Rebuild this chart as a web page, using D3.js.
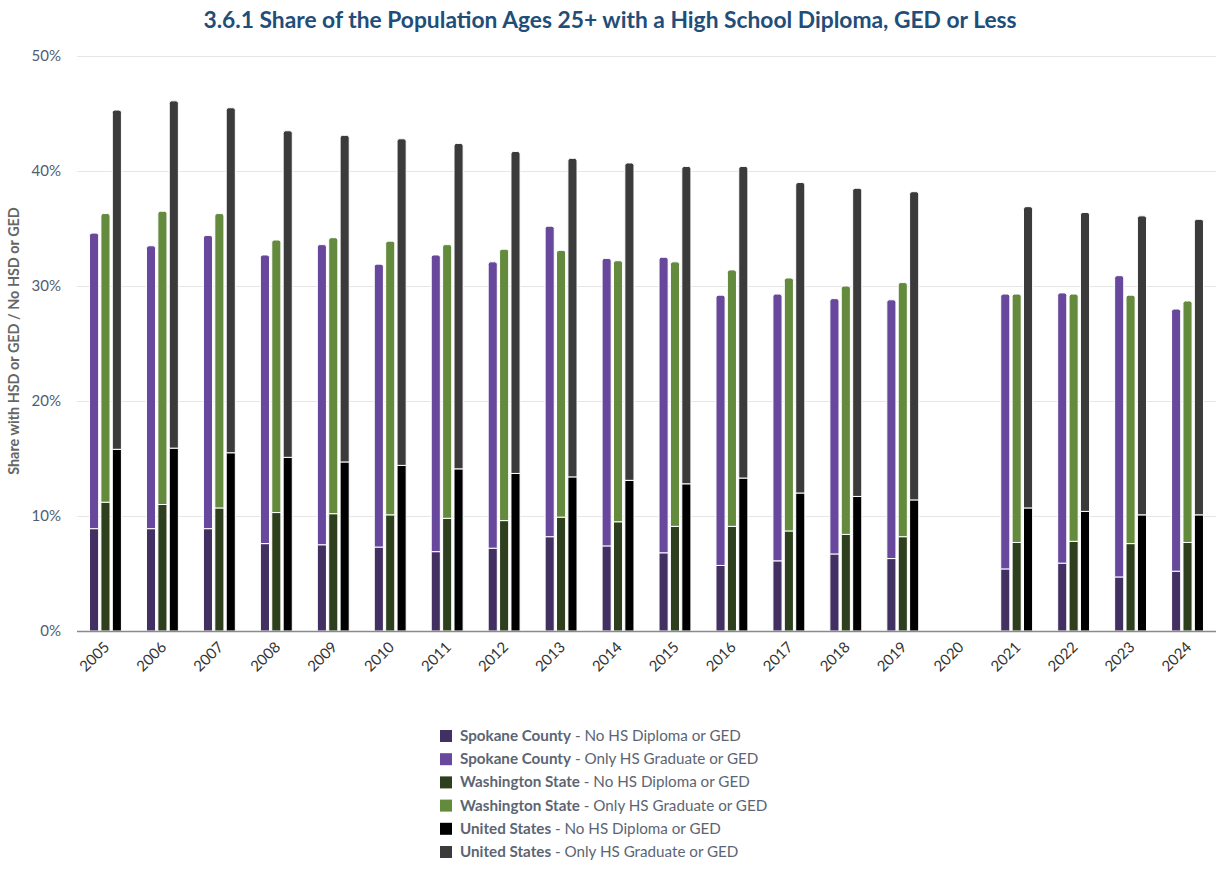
<!DOCTYPE html>
<html>
<head>
<meta charset="utf-8">
<script src="https://cdn.jsdelivr.net/npm/d3@7"></script>
<style>
  body { margin: 0; background: #fff; }
  svg { font-family: Lato, 'Open Sans', sans-serif; }
</style>
</head>
<body>
<svg id="chart" width="1216" height="871"></svg>
<script>

// data
var years = ['2005','2006','2007','2008','2009','2010','2011','2012','2013','2014',
             '2015','2016','2017','2018','2019','2020','2021','2022','2023','2024'];

var spokaneNoHS   = [8.9, 8.9, 8.9, 7.6, 7.5, 7.3, 6.9, 7.2, 8.2, 7.4, 6.8, 5.7, 6.1, 6.7, 6.3, null, 5.4, 5.9, 4.7, 5.2];
var spokaneHSOnly = [25.7, 24.6, 25.5, 25.1, 26.1, 24.6, 25.8, 24.9, 27.0, 25.0, 25.7, 23.5, 23.2, 22.2, 22.5, null, 23.9, 23.5, 26.2, 22.8];
var waNoHS        = [11.2, 11.0, 10.7, 10.3, 10.2, 10.1, 9.8, 9.6, 9.9, 9.5, 9.1, 9.1, 8.7, 8.4, 8.2, null, 7.7, 7.8, 7.6, 7.7];
var waHSOnly      = [25.1, 25.5, 25.6, 23.7, 24.0, 23.8, 23.8, 23.6, 23.2, 22.7, 23.0, 22.3, 22.0, 21.6, 22.1, null, 21.6, 21.5, 21.6, 21.0];
var usNoHS        = [15.8, 15.9, 15.5, 15.1, 14.7, 14.4, 14.1, 13.7, 13.4, 13.1, 12.8, 13.3, 12.0, 11.7, 11.4, null, 10.7, 10.4, 10.1, 10.1];
var usHSOnly      = [29.5, 30.2, 30.0, 28.4, 28.4, 28.4, 28.3, 28.0, 27.7, 27.6, 27.6, 27.1, 27.0, 26.8, 26.8, null, 26.2, 26.0, 26.0, 25.7];

var yTicks = [0, 10, 20, 30, 40, 50];

var stacks = ['spokane', 'wa', 'us'];
var series = [
  { stack: 'spokane', name: 'Spokane County', part: 'No HS Diploma or GED',       values: spokaneNoHS,   color: '#433063' },
  { stack: 'spokane', name: 'Spokane County', part: 'Only HS Graduate or GED',    values: spokaneHSOnly, color: '#67489c' },
  { stack: 'wa',      name: 'Washington State', part: 'No HS Diploma or GED',     values: waNoHS,        color: '#2d3f1c' },
  { stack: 'wa',      name: 'Washington State', part: 'Only HS Graduate or GED',  values: waHSOnly,      color: '#648a3e' },
  { stack: 'us',      name: 'United States', part: 'No HS Diploma or GED',        values: usNoHS,        color: '#000000' },
  { stack: 'us',      name: 'United States', part: 'Only HS Graduate or GED',     values: usHSOnly,      color: '#3b3b3b' }
];

var colorTitle = '#1f4e79';
var colorTick = '#4f5d72';
var colorLegend = '#5b6573';

var svg = d3.select('#chart');

var plotLeft = 77, plotRight = 1216, plotTop = 56, plotBottom = 631;

var x = d3.scaleBand()
          .domain(years)
          .range([plotLeft, plotRight]);

var xInner = d3.scaleBand()
               .domain(stacks)
               .range([0, x.bandwidth()])
               .paddingInner(0.2)
               .paddingOuter(1.1);

var y = d3.scaleLinear()
          .domain([0, 50])
          .range([plotBottom, plotTop]);

// title
svg.append('text')
   .text('3.6.1 Share of the Population Ages 25+ with a High School Diploma, GED or Less')
   .attr('x', 610)
   .attr('y', 28)
   .attr('text-anchor', 'middle')
   .style('font-size', '22.8px')
   .style('font-weight', 700)
   .style('fill', colorTitle);

// grid
svg.append('g')
   .selectAll('line')
   .data(yTicks.slice(1))
   .enter().append('line')
   .attr('x1', plotLeft)
   .attr('x2', plotRight)
   .attr('y1', function(d){ return y(d) + 0.5; })
   .attr('y2', function(d){ return y(d) + 0.5; })
   .attr('stroke', '#e6e6e6')
   .attr('stroke-width', 1);

// y axis labels
var yAxis = d3.axisLeft(y)
              .tickValues(yTicks)
              .tickSize(0)
              .tickPadding(0)
              .tickFormat(function(d){ return d + '%'; });
var yg = svg.append('g')
            .attr('transform', 'translate(61,0)')
            .call(yAxis);
yg.select('.domain').remove();
yg.selectAll('text')
  .style('font-family', 'Lato, sans-serif')
  .style('font-size', '15px')
  .style('fill', colorTick);

svg.append('text')
   .text('Share with HSD or GED / No HSD or GED')
   .attr('transform', 'translate(19,341) rotate(-90)')
   .attr('text-anchor', 'middle')
   .style('font-size', '14.4px')
   .style('font-weight', 700)
   .style('fill', '#666666');

// bars: rounded top for the upper segment
function barPath(x0, w, yTop, yBot, r) {
  r = Math.min(r, (yBot - yTop));
  return 'M' + x0 + ',' + yBot +
         'V' + (yTop + r) +
         'Q' + x0 + ',' + yTop + ' ' + (x0 + r) + ',' + yTop +
         'H' + (x0 + w - r) +
         'Q' + (x0 + w) + ',' + yTop + ' ' + (x0 + w) + ',' + (yTop + r) +
         'V' + yBot + 'Z';
}

var bars = svg.append('g');
stacks.forEach(function(st) {
  var parts = series.filter(function(s){ return s.stack === st; });
  years.forEach(function(yr, i) {
    var base = 0;
    parts.forEach(function(s, k) {
      var v = s.values[i];
      if (v == null) return;
      var x0 = x(yr) + xInner(st);
      var w = xInner.bandwidth();
      var top = y(base + v), bot = y(base);
      var r = (k === parts.length - 1) ? 2.5 : 0;
      bars.append('path')
          .attr('d', barPath(x0, w, top, bot, r))
          .attr('fill', s.color)
          .attr('stroke', '#ffffff')
          .attr('stroke-width', 1);
      base += v;
    });
  });
});

// x axis
svg.append('line')
   .attr('x1', plotLeft)
   .attr('x2', plotRight)
   .attr('y1', plotBottom + 0.5)
   .attr('y2', plotBottom + 0.5)
   .attr('stroke', '#8a8a8a')
   .attr('stroke-width', 1.5);

svg.append('g')
   .selectAll('text')
   .data(years)
   .enter().append('text')
   .text(function(d){ return d; })
   .attr('transform', function(d){
     return 'translate(' + (x(d) + x.bandwidth() / 2 + 5) + ',648) rotate(-45)';
   })
   .attr('text-anchor', 'end')
   .style('font-size', '15px')
   .style('fill', '#333333');

// legend
var legend = svg.append('g');
series.forEach(function(s, i) {
  var ly = 736 + i * 23.2;
  legend.append('rect')
        .attr('x', 440)
        .attr('y', ly - 6)
        .attr('width', 12)
        .attr('height', 12)
        .attr('fill', s.color);
  var t = legend.append('text')
                .attr('x', 460)
                .attr('y', ly + 5)
                .style('font-size', '15.2px')
                .style('fill', colorLegend);
  t.append('tspan')
   .text(s.name)
   .style('font-weight', 700);
  t.append('tspan')
   .text(' - ' + s.part);
});

</script>
</body>
</html>
